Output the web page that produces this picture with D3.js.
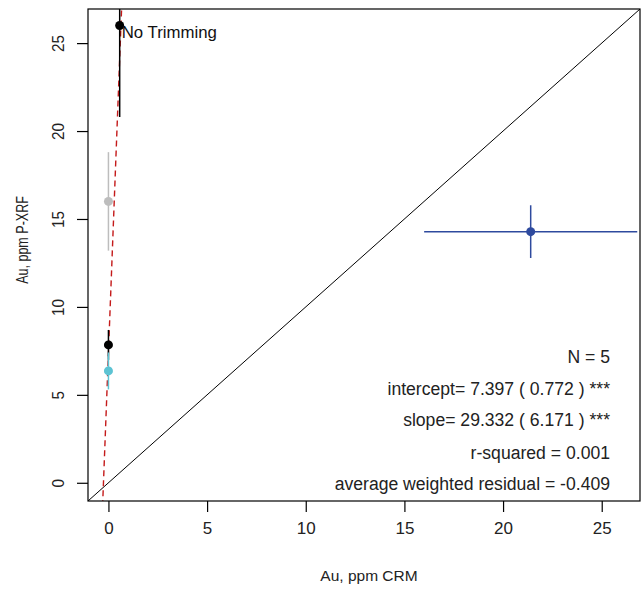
<!DOCTYPE html>
<html><head><meta charset="utf-8">
<script src="https://cdn.jsdelivr.net/npm/d3@7"></script>
<style>body{margin:0;background:#fff}svg{display:block;font-family:"Liberation Sans",Arial,sans-serif}</style>
</head><body><svg id="c" width="642" height="590"></svg>
<script>
const crm = [0.57, 0, 0, 0, 21.4];
const xrf = [26.0, 16.0, 7.84, 6.36, 14.28];
const crmErr = [0, 0, 0, 0, 5.4];
const xrfErr = [5.2, 2.8, 0.85, 1.05, 1.5];
const pointColors = ["#000000", "#bdbdbd", "#000000", "#5cc3d3", "#2e4a9e"];
const xTicks = [0, 5, 10, 15, 20, 25];
const yTicks = [0, 5, 10, 15, 20, 25];
const statLines = ["N = 5", "intercept= 7.397 ( 0.772 ) ***", "slope= 29.332 ( 6.171 ) ***", "r-squared = 0.001", "average weighted residual = -0.409"];
const intercept = 7.397, slope = 29.332;
const domain = [-1.036, 26.94];

const svg = d3.select("#c");
const L = 88, R = 640, T = 9, B = 501;
const x = d3.scaleLinear().domain(domain).range([L, R]);
const y = d3.scaleLinear().domain(domain).range([B, T]);

svg.append("defs").append("clipPath").attr("id","clip")
  .append("rect").attr("x",L).attr("y",T).attr("width",R-L).attr("height",B-T);
const g = svg.append("g").attr("clip-path","url(#clip)");

// 1:1 line
g.append("line").attr("x1",x(domain[0])).attr("y1",y(domain[0])).attr("x2",x(domain[1])).attr("y2",y(domain[1]))
  .attr("stroke","#000").attr("stroke-width",1);
// regression line
const yLo = domain[0]-2, yHi = domain[1]+2;
g.append("line").attr("x1",x((yLo-intercept)/slope)).attr("y1",y(yLo))
  .attr("x2",x((yHi-intercept)/slope)).attr("y2",y(yHi))
  .attr("stroke","#c41a1a").attr("stroke-width",1.4).attr("stroke-dasharray","6,4");

const idx = d3.range(crm.length);
// error bars
idx.forEach(i => {
  g.append("line").attr("x1",x(crm[i])).attr("x2",x(crm[i]))
    .attr("y1",y(xrf[i]-xrfErr[i])).attr("y2",y(xrf[i]+xrfErr[i]))
    .attr("stroke",pointColors[i]).attr("stroke-width",1.5);
  if (crmErr[i] > 0) {
    g.append("line").attr("y1",y(xrf[i])).attr("y2",y(xrf[i]))
      .attr("x1",x(crm[i]-crmErr[i])).attr("x2",x(crm[i]+crmErr[i]))
      .attr("stroke",pointColors[i]).attr("stroke-width",1.5);
  }
});
// points
g.selectAll("circle.pt").data(idx).enter().append("circle")
  .attr("cx",i=>x(crm[i])).attr("cy",i=>y(xrf[i])).attr("r",4.5)
  .attr("fill",i=>pointColors[i]);

// box
svg.append("rect").attr("x",L).attr("y",T).attr("width",R-L).attr("height",B-T)
  .attr("fill","none").attr("stroke","#000").attr("stroke-width",1.2);

// axes
const xAxis = svg.append("g").attr("transform",`translate(0,${B})`)
  .call(d3.axisBottom(x).tickValues(xTicks).tickSize(11).tickPadding(10).tickFormat(d3.format("d")));
xAxis.select(".domain").remove();
xAxis.selectAll("text").attr("font-size",17).attr("fill","#222").attr("font-family","Liberation Sans, Arial, sans-serif");
xAxis.selectAll("line").attr("stroke","#000").attr("stroke-width",1.2);

const yAxis = svg.append("g").attr("transform",`translate(${L},0)`)
  .call(d3.axisLeft(y).tickValues(yTicks).tickSize(11).tickFormat(d3.format("d")));
yAxis.select(".domain").remove();
yAxis.selectAll("line").attr("stroke","#000").attr("stroke-width",1.2);
yAxis.selectAll("text").remove();
yAxis.selectAll(".tick").append("text")
  .attr("transform","translate(-22,0) rotate(-90) scale(0.9,1)")
  .attr("text-anchor","middle").attr("dy","-0.1em")
  .attr("font-size",17).attr("fill","#222")
  .attr("font-family","Liberation Sans, Arial, sans-serif")
  .text(d=>d3.format("d")(d));

// labels
svg.append("text").attr("x",369).attr("y",581).attr("text-anchor","middle")
  .attr("font-size",15.5).attr("fill","#222").text("Au, ppm CRM");
svg.append("text").attr("transform","translate(28,240) rotate(-90) scale(0.76,1)").attr("text-anchor","middle")
  .attr("font-size",16.5).attr("fill","#222").text("Au, ppm P-XRF");

// annotation
svg.append("text").attr("x",x(crm[0])+2).attr("y",y(xrf[0])+12)
  .attr("font-size",16.8).attr("fill","#111").text("No Trimming");

// stats
const statY = [357, 389, 420, 453, 484];
svg.selectAll("text.stat").data(statLines).enter().append("text")
  .attr("class","stat").attr("x",610).attr("y",(d,i)=>statY[i]+6)
  .attr("text-anchor","end").attr("font-size",17.6).attr("fill","#222").text(d=>d);
</script></body></html>
